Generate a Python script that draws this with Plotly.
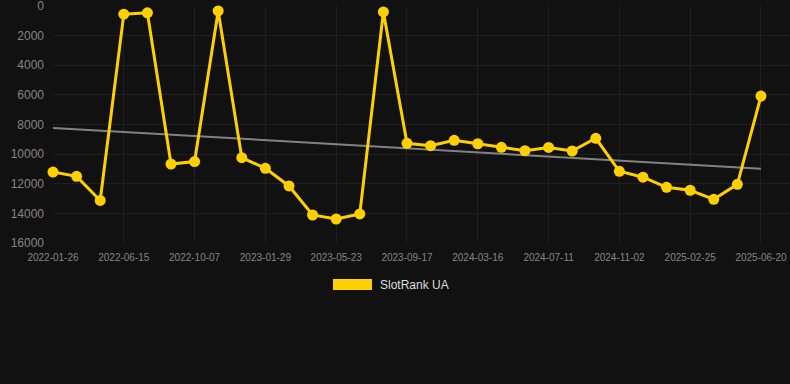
import numpy as np
import plotly.graph_objects as go

dates = [
    "2022-01-26", "2022-03-13", "2022-04-29", "2022-06-15", "2022-07-23", "2022-08-30",
    "2022-10-07", "2022-11-14", "2022-12-22", "2023-01-29", "2023-03-07", "2023-04-14",
    "2023-05-23", "2023-07-01", "2023-08-09", "2023-09-17", "2023-11-16", "2024-01-15",
    "2024-03-16", "2024-04-24", "2024-06-02", "2024-07-11", "2024-08-18", "2024-09-25",
    "2024-11-02", "2024-12-10", "2025-01-17", "2025-02-25", "2025-04-04", "2025-05-12",
    "2025-06-20",
]
rank_ua = [
    11210, 11500, 13130, 550, 460, 10670, 10500, 330, 10240, 10960, 12150, 14110,
    14380, 14040, 400, 9270, 9430, 9070, 9300, 9540, 9770, 9550, 9790, 8930,
    11160, 11560, 12240, 12440, 13050, 12040, 6080,
]
tick_labels = dates[::3]
y_ticks = [0, 2000, 4000, 6000, 8000, 10000, 12000, 14000, 16000]
series_name = "SlotRank UA"

YELLOW = "#FFD000"
BG = "#111111"
GRID = "#1f1f1f"

idx = np.arange(len(rank_ua))
slope, intercept = np.polyfit(idx, rank_ua, 1)
trend = slope * idx + intercept

fig = go.Figure()
fig.add_trace(go.Scatter(
    x=dates, y=trend, mode="lines",
    line=dict(color="rgba(150,150,150,0.85)", width=2),
    showlegend=False, hoverinfo="skip",
))
fig.add_trace(go.Scatter(
    x=dates, y=rank_ua, mode="lines+markers", name=series_name,
    line=dict(color=YELLOW, width=3),
    marker=dict(color=YELLOW, size=11),
    cliponaxis=False, showlegend=False,
))

# legend drawn manually (wide filled swatch)
fig.add_shape(type="rect", xref="paper", yref="paper",
              x0=(333 - 53) / 737, x1=(372 - 53) / 737,
              y0=(384 - 141 - 290) / 237, y1=(384 - 141 - 279) / 237,
              fillcolor=YELLOW, line=dict(width=0))
fig.add_annotation(xref="paper", yref="paper",
                   x=(378 - 53) / 737, y=(384 - 141 - 284.5) / 237,
                   text=series_name, showarrow=False, xanchor="left", yanchor="middle",
                   font=dict(family="Liberation Sans, Arial, sans-serif", size=12, color="#dddddd"))

fig.update_layout(
    width=790, height=384,
    paper_bgcolor=BG, plot_bgcolor=BG,
    margin=dict(l=53, r=0, t=6, b=141),
    font=dict(family="Liberation Sans, Arial, sans-serif", size=11, color="#888888"),
    showlegend=False,
)
fig.update_xaxes(
    type="category", range=[0, 31.23],
    tickmode="array", tickvals=tick_labels, ticktext=tick_labels,
    showgrid=True, gridcolor=GRID, gridwidth=1,
    zeroline=False, showline=False, ticks="", tickfont=dict(size=10, color="#858585"),
    ticklabelstandoff=7, ticklabeloverflow="allow",
)
fig.update_yaxes(
    range=[16001, -1], tickmode="array", tickvals=y_ticks,
    ticktext=[str(v) for v in y_ticks],
    showgrid=True, gridcolor=GRID, gridwidth=1,
    zeroline=False, showline=False, ticks="", tickfont=dict(size=12, color="#858585"),
    ticklabelstandoff=8, ticklabeloverflow="allow",
)

fig.write_html(
    "out.html",
    config={"displayModeBar": False},
    post_script="document.body.style.margin='0';document.body.style.background='#111111';",
)
